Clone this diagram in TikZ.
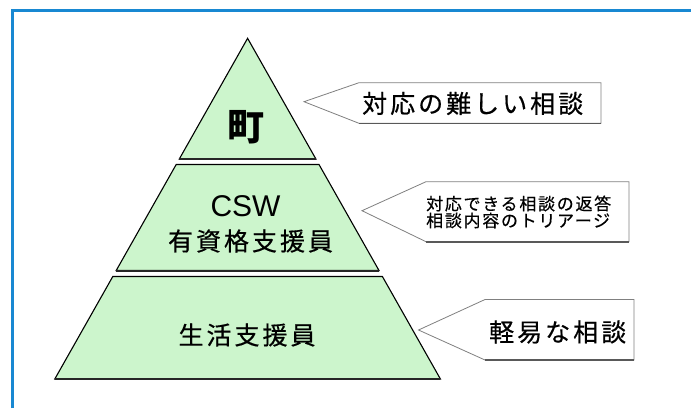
\documentclass[tikz,border=0pt]{standalone}
\usepackage{fontspec}
\setmainfont{Liberation Sans}
\newfontfamily\jp{Noto Sans CJK JP}
\newfontfamily\jpsp[LetterSpace=12,FakeBold=0.5]{Noto Sans CJK JP}
\newfontfamily\jpsm[LetterSpace=10,FakeBold=0.4]{Noto Sans CJK JP}
\definecolor{tiergreen}{RGB}{204,245,204}
\definecolor{borderblue}{RGB}{24,136,210}
\tikzset{
  tier/.style={fill=tiergreen, draw=black, line width=1.1pt, line join=miter},
  tierbase/.style={draw=black!85, line width=2pt},
  callout/.style={fill=white, draw=black!50, line width=0.8pt, line join=miter},
  calloutshadow/.style={draw=black!65, line width=1.6pt},
  bigjp/.style={inner sep=0pt, font=\fontsize{25}{28}\jpsp},
  smalljp/.style={inner sep=0pt, font=\fontsize{17}{19}\jpsm},
  topjp/.style={inner sep=0pt, font=\fontsize{37}{40}\jp\bfseries},
  csw/.style={inner sep=0pt, font=\fontsize{30}{34}\selectfont},
}
\begin{document}
\begin{tikzpicture}[x=1pt, y=-1pt]
\useasboundingbox[fill=white] (0,0) rectangle (691,408);
% blue frame (top and left edges)
\draw[borderblue, line width=3pt] (12.5,408) -- (12.5,10.5) -- (691,10.5);
% pyramid tiers
\draw[tier] (247.6,38.3) -- (315.9,159) -- (179.3,159) -- cycle;
\draw[tier] (176.2,164.5) -- (319.0,164.5) -- (379.0,270.5) -- (116.2,270.5) -- cycle;
\draw[tier] (112.8,276.5) -- (382.4,276.5) -- (440.4,379) -- (54.8,379) -- cycle;
\draw[tierbase] (179.3,159) -- (315.9,159);
\draw[tierbase] (116.2,270.5) -- (379.0,270.5);
\draw[tierbase] (54.8,379) -- (440.4,379);
% callouts
\draw[callout] (304,101.7) -- (359,82.7) -- (601,82.7) -- (601,123.3) -- (359,123.3) -- cycle;
\draw[calloutshadow] (359,123.3) -- (601,123.3);
\draw[callout] (362,210.7) -- (426,181.7) -- (629,181.7) -- (629,241.7) -- (426,241.7) -- cycle;
\draw[calloutshadow] (426,241.7) -- (629,241.7);
\draw[callout] (418.5,330) -- (485,299.5) -- (634,299.5) -- (634,360) -- (485,360) -- cycle;
\draw[calloutshadow] (485,360) -- (634,360);
% tier texts
\node[topjp] (town) at (245.6,127.5) {町};
\node[csw] (cswlabel) at (245.5,206) {CSW};
\node[bigjp] (qualified) at (250.5,241) {有資格支援員};
\node[bigjp] (support) at (247,335) {生活支援員};
% callout texts
\node[bigjp, anchor=west] (hard) at (362,103.5) {対応の難しい相談};
\node[smalljp, anchor=west] (answer) at (426,203.5) {対応できる相談の返答};
\node[smalljp, anchor=west] (triage) at (426,220.5) {相談内容のトリアージ};
\node[bigjp, anchor=west] (easy) at (489,332) {軽易な相談};
\end{tikzpicture}
\end{document}
